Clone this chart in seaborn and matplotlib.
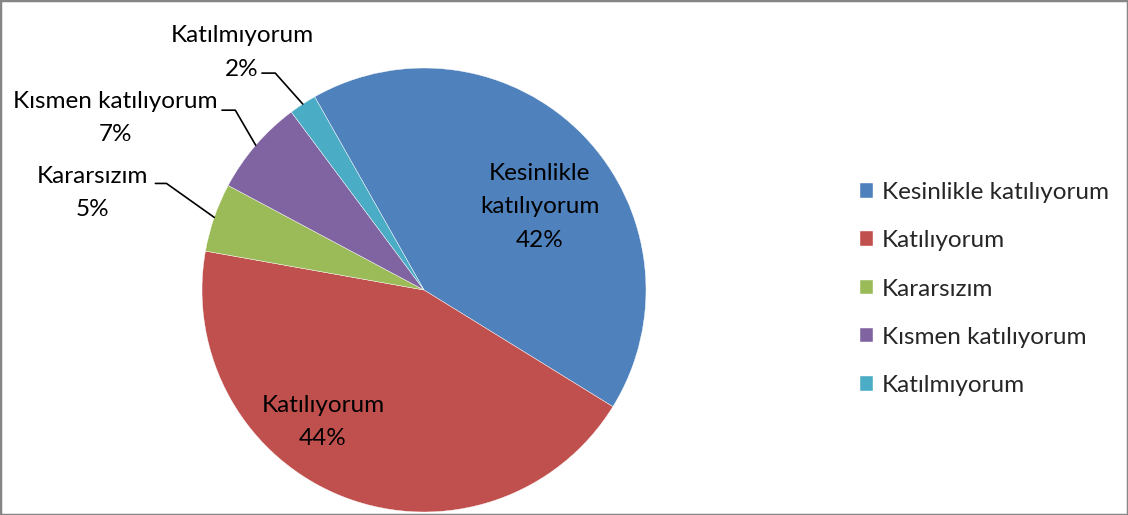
import matplotlib
matplotlib.use("Agg")
import matplotlib.pyplot as plt
import seaborn as sns
from matplotlib.patches import Rectangle
import numpy as np

# Dati del grafico
categorie = ["Kesinlikle katılıyorum", "Katılıyorum", "Kararsızım",
             "Kısmen katılıyorum", "Katılmıyorum"]
percentuali = [42, 44, 5, 7, 2]
colori = ["#4F81BD", "#C0504D", "#9BBB59", "#8064A2", "#4BACC6"]

sns.set_theme(style="white")
plt.rcParams["font.family"] = ["Lato", "DejaVu Sans"]

fig = plt.figure(figsize=(11.28, 5.15), dpi=100)
# asse della torta: centro (424, 290) px, raggio 222 px
r_px = 222
ax = fig.add_axes([(424 - r_px) / 1128, (515 - 290 - r_px) / 515,
                   2 * r_px / 1128, 2 * r_px / 515])

start = 119.5
wedges, _ = ax.pie(percentuali, colors=colori, startangle=start,
                   counterclock=False, radius=1, center=(0, 0), frame=False,
                   wedgeprops=dict(linewidth=0.3, edgecolor="white"))
ax.set_aspect("auto")
ax.set_xlim(-1, 1)
ax.set_ylim(-1, 1)
ax.axis("off")

fs = 17.5
ls = 1.75

# etichette interne
pos_interne = {0: (0.52, 0.374), 1: (-0.455, -0.595)}
testi_interni = {0: "Kesinlikle\nkatılıyorum", 1: "Katılıyorum"}
for i, (x, y) in pos_interne.items():
    ax.text(x, y, f"{testi_interni[i]}\n{percentuali[i]}%", ha="center",
            va="center", fontsize=fs, color="black", linespacing=ls)

# etichette esterne con linee guida
pos_testo = {2: (-1.495, 0.437), 3: (-1.39, 0.775), 4: (-0.82, 1.07)}
pos_linea = {2: (-1.21, -1.16, 0.48), 3: (-0.91, -0.85, 0.81),
             4: (-0.73, -0.67, 0.977)}
cumul = np.cumsum([0] + percentuali)
for i in [2, 3, 4]:
    mid = np.deg2rad(start - 3.6 * (cumul[i] + percentuali[i] / 2))
    x0, x1, yl = pos_linea[i]
    ax.plot([x0, x1, np.cos(mid)], [yl, yl, np.sin(mid)], color="black",
            lw=1.2, clip_on=False)
    tx, ty = pos_testo[i]
    ax.text(tx, ty, f"{categorie[i]}\n{percentuali[i]}%", ha="center",
            va="center", fontsize=fs, color="black", linespacing=ls)

leg = fig.legend(wedges, categorie, loc="center left",
                 bbox_to_anchor=(860 / 1128, 1 - 289 / 515), frameon=False,
                 fontsize=fs, handlelength=0.55, handleheight=0.55,
                 handletextpad=0.35, labelspacing=1.12, borderaxespad=0,
                 borderpad=0)

# bordo grigio
fig.patches.append(Rectangle((0, 0), 1, 1, transform=fig.transFigure,
                             fill=False, edgecolor="#868686", linewidth=2.5))

fig.savefig("out.png", dpi=100)
